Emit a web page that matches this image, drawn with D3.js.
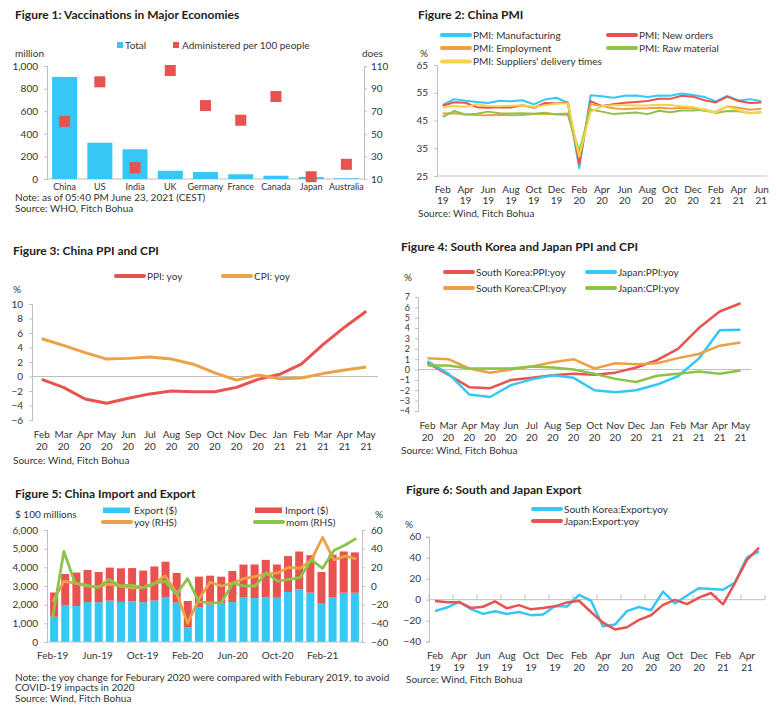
<!DOCTYPE html>
<html>
<head>
<meta charset="utf-8">
<script src="https://cdn.jsdelivr.net/npm/d3@7"></script>
<style>
  body { margin: 0; background: #fff; }
  svg { font-family: Lato, "Open Sans", sans-serif; }
  .title { font-weight: 700; font-size: 12px; fill: #222; }
  .lbl { font-size: 10px; fill: #333; }
  .cat { font-size: 9px; fill: #333; }
  .note { font-size: 10px; fill: #333; }
</style>
</head>
<body>
<svg id="chart" width="777" height="715"></svg>
<script>
// ---- data ----
const vacCountries = ["China", "US", "India", "UK", "Germany", "France", "Canada", "Japan", "Australia"];
const vacTotal = [903, 321, 263, 73, 62, 42, 29, 18, 6];
const vacPer100 = [61, 96, 20, 106, 75, 62, 83, 12, 23];
const vacLeftTicks = [0, 200, 400, 600, 800, 1000];
const vacRightTicks = [10, 30, 50, 70, 90, 110];

const months = ["Feb 19", "Mar 19", "Apr 19", "May 19", "Jun 19", "Jul 19", "Aug 19", "Sep 19", "Oct 19", "Nov 19", "Dec 19",
  "Jan 20", "Feb 20", "Mar 20", "Apr 20", "May 20", "Jun 20", "Jul 20", "Aug 20", "Sep 20", "Oct 20", "Nov 20", "Dec 20",
  "Jan 21", "Feb 21", "Mar 21", "Apr 21", "May 21", "Jun 21"];

const pmiManufacturing = [50.6, 52.7, 52.1, 51.7, 51.3, 52.1, 51.9, 52.3, 50.8, 52.6, 53.2, 51.3, 27.8, 54.1, 53.7, 53.2, 53.9, 54.0, 53.5, 54.0, 53.9, 54.7, 54.2, 53.5, 51.9, 53.9, 52.2, 52.7, 51.9];
const pmiNewOrders = [50.3, 51.6, 51.4, 49.8, 49.6, 49.8, 49.7, 50.5, 49.6, 51.3, 51.2, 51.4, 29.3, 52.0, 50.2, 50.9, 51.4, 51.7, 52.0, 52.8, 52.8, 53.9, 53.6, 52.3, 51.5, 53.6, 52.0, 51.3, 51.5];
const pmiEmployment = [47.5, 47.6, 47.2, 47.0, 46.9, 47.1, 46.9, 47.0, 47.3, 47.3, 47.3, 47.5, 31.8, 50.9, 50.2, 49.4, 49.1, 49.3, 49.4, 49.6, 49.3, 49.5, 49.6, 48.4, 48.1, 50.1, 49.6, 48.9, 49.2];
const pmiRawMaterial = [46.3, 48.4, 47.2, 47.4, 48.2, 47.6, 47.5, 47.6, 47.4, 47.8, 47.2, 47.1, 33.9, 49.0, 48.2, 47.3, 47.6, 47.9, 47.3, 48.5, 48.0, 48.6, 48.6, 49.0, 47.7, 48.4, 48.3, 47.7, 48.0];
const pmiSuppliers = [49.8, 50.2, 49.9, 50.9, 50.2, 50.1, 50.3, 50.5, 49.9, 50.5, 51.1, 51.1, 32.1, 48.2, 50.1, 50.5, 50.5, 50.4, 50.4, 50.7, 50.6, 50.1, 49.9, 48.8, 47.9, 50.0, 48.7, 47.6, 47.9];
const pmiTicks = [25, 35, 45, 55, 65];

const cnPPI = [-0.4, -1.5, -3.1, -3.7, -3.0, -2.4, -2.0, -2.1, -2.1, -1.5, -0.4, 0.3, 1.7, 4.4, 6.8, 9.0];
const cnCPI = [5.2, 4.3, 3.3, 2.4, 2.5, 2.7, 2.4, 1.7, 0.5, -0.5, 0.2, -0.3, -0.2, 0.4, 0.9, 1.3];
const cnTicks = [-6, -4, -2, 0, 2, 4, 6, 8, 10];

const krPPI = [0.65, -0.5, -1.7, -1.8, -1.0, -0.8, -0.55, -0.4, -0.5, -0.3, 0.2, 0.9, 2.0, 4.0, 5.6, 6.4];
const jpPPI = [0.8, -0.4, -2.4, -2.65, -1.5, -0.95, -0.55, -0.8, -2.0, -2.2, -2.0, -1.45, -0.65, 1.05, 3.8, 3.85];
const krCPI = [1.1, 1.0, 0.1, -0.3, 0.0, 0.3, 0.7, 1.0, 0.1, 0.6, 0.5, 0.6, 1.1, 1.5, 2.3, 2.6];
const jpCPI = [0.4, 0.4, 0.1, 0.1, 0.1, 0.3, 0.2, 0.0, -0.4, -0.9, -1.2, -0.6, -0.4, -0.2, -0.4, -0.1];
const krjpTicks = [-4, -3, -2, -1, 0, 1, 2, 3, 4, 5, 6, 7];

const cnExport = [1352, 1986, 1930, 2138, 2129, 2215, 2148, 2181, 2129, 2217, 2381, 2110, 800, 1851, 2003, 2068, 2136, 2376, 2353, 2398, 2372, 2681, 2819, 2640, 2050, 2411, 2639, 2639];
const cnImport = [1300, 1660, 1790, 1720, 1620, 1770, 1800, 1780, 1700, 1830, 1920, 1590, 1400, 1650, 1550, 1430, 1670, 1770, 1800, 2000, 1780, 1920, 2030, 2010, 1700, 2270, 2210, 2160];
const cnYoy = [-17, 5, 3, 0, -1, 2, 0, -2, -2, 2, 11, -7, -40, -14, 4, 0, 3, 8, 10, 13, 14, 20, 19, 28, 52, 28, 32, 29];
const cnMom = [-34, 37, 3, 1, -2, 7, 0, 1, -2, 3, 5, -9, 8, -17, -18, -18, 3, 0, 0, 14, 5, 7, 9, 28, 19, 38, 44, 51];
const tradeLeftTicks = [0, 1000, 2000, 3000, 4000, 5000, 6000];
const tradeRightTicks = [-60, -40, -20, 0, 20, 40, 60];

const krExport = [-10.7, -7.5, -2.0, -9.0, -13.5, -11.0, -13.6, -11.7, -14.7, -14.0, -5.9, -6.5, 4.5, -1.0, -25.4, -23.7, -10.9, -7.0, -10.0, 7.7, -3.6, 4.0, 11.0, 10.3, 9.5, 16.4, 40.3, 46.0];
const jpExport = [-1.2, -2.4, -2.4, -7.8, -6.7, -1.6, -8.2, -5.2, -9.2, -7.9, -6.3, -2.6, -1.0, -11.7, -21.9, -28.3, -26.2, -19.2, -14.8, -4.9, -0.2, -4.2, 2.0, 6.4, -4.5, 16.1, 38.0, 49.6];
const exportTicks = [-40, -20, 0, 20, 40, 60];

// ---- style ----
const BLUE = "#35c8f5", RED = "#e8534f", ORANGE = "#eba146", GREEN = "#8dc34a", YELLOW = "#f2d54a";
const GRID = "#bfbfbf", TXT = "#333";
const svg = d3.select("#chart");

function styleAxis(g, size) {
  g.attr("font-family", null).attr("font-size", null);
  g.select(".domain").attr("stroke", GRID);
  g.selectAll(".tick line").attr("stroke", GRID);
  g.selectAll(".tick text").attr("fill", TXT).attr("font-size", size || 10);
}

function addText(g, x, y, s, cls, anchor) {
  return g.append("text").attr("class", cls || "lbl").attr("x", x).attr("y", y)
    .attr("text-anchor", anchor || "start").text(s);
}

function twoLineLabels(g, x, cats, every, y1, y2) {
  cats.forEach((c, i) => {
    if (i % every) return;
    const [m, yr] = c.split(" ");
    const t = g.append("text").attr("class", "lbl").attr("text-anchor", "middle");
    const cx = x(c) + x.bandwidth() / 2;
    t.append("tspan").attr("x", cx).attr("y", y1).text(m);
    t.append("tspan").attr("x", cx).attr("y", y2).text(yr);
  });
}

function lineSwatch(g, x, y, color, label) {
  g.append("line").attr("x1", x).attr("x2", x + 28).attr("y1", y).attr("y2", y)
    .attr("stroke", color).attr("stroke-width", 4).attr("stroke-linecap", "round");
  addText(g, x + 31, y + 3.5, label);
}

function drawSeries(g, x, y, cats, values, color, width) {
  const line = d3.line().x((d, i) => x(cats[i]) + x.bandwidth() / 2).y(d => y(d));
  g.append("path").datum(values).attr("d", line).attr("fill", "none")
    .attr("stroke", color).attr("stroke-width", width).attr("stroke-linejoin", "round");
}

// ---- Figure 1 ----
(function () {
  const g = svg.append("g");
  addText(g, 15, 19, "Figure 1: Vaccinations in Major Economies", "title");
  const x = d3.scaleBand().domain(vacCountries).range([47, 364]).paddingInner(0.29).paddingOuter(0.145);
  const yL = d3.scaleLinear().domain([0, 1000]).range([179, 66]);
  const yR = d3.scaleLinear().domain([10, 110]).range([179, 66]);

  g.append("g").attr("transform", "translate(47,0)")
    .call(d3.axisLeft(yL).tickValues(vacLeftTicks).tickSize(3).tickPadding(6).tickFormat(d3.format(",")))
    .call(styleAxis);
  g.append("g").attr("transform", "translate(364,0)")
    .call(d3.axisRight(yR).tickValues(vacRightTicks).tickSize(3).tickPadding(4))
    .call(styleAxis);
  g.append("line").attr("x1", 47).attr("x2", 364).attr("y1", 179).attr("y2", 179).attr("stroke", GRID);

  g.selectAll("rect.bar").data(vacTotal).join("rect").attr("class", "bar")
    .attr("x", (d, i) => x(vacCountries[i])).attr("width", x.bandwidth())
    .attr("y", d => yL(d)).attr("height", d => yL(0) - yL(d)).attr("fill", BLUE);
  const s = 11;
  g.selectAll("rect.dot").data(vacPer100).join("rect").attr("class", "dot")
    .attr("x", (d, i) => x(vacCountries[i]) + x.bandwidth() / 2 - s / 2).attr("y", d => yR(d) - s / 2)
    .attr("width", s).attr("height", s).attr("fill", RED);

  vacCountries.forEach(c => addText(g, x(c) + x.bandwidth() / 2, 190, c, "cat", "middle"));

  g.append("rect").attr("x", 117).attr("y", 42).attr("width", 6).attr("height", 6).attr("fill", BLUE);
  addText(g, 125, 48.5, "Total");
  g.append("rect").attr("x", 173).attr("y", 42).attr("width", 6).attr("height", 6).attr("fill", RED);
  addText(g, 182, 48.5, "Administered per 100 people");
  addText(g, 15, 57, "million");
  addText(g, 362, 57, "does");
  addText(g, 15, 200.5, "Note: as of 05:40 PM June 23, 2021 (CEST)", "note");
  addText(g, 15, 212, "Source: WHO, Fitch Bohua", "note");
})();

// ---- Figure 2 ----
(function () {
  const g = svg.append("g");
  addText(g, 418, 19, "Figure 2: China PMI", "title");
  const x = d3.scaleBand().domain(months).range([437, 767]);
  const y = d3.scaleLinear().domain([25, 65]).range([176, 65]);
  g.append("g").attr("transform", "translate(437,0)")
    .call(d3.axisLeft(y).tickValues(pmiTicks).tickSize(3).tickPadding(6)).call(styleAxis);
  g.append("line").attr("x1", 437).attr("x2", 767).attr("y1", 176).attr("y2", 176).attr("stroke", GRID);
  twoLineLabels(g, x, months, 2, 193, 204);

  drawSeries(g, x, y, months, pmiManufacturing, BLUE, 2);
  drawSeries(g, x, y, months, pmiNewOrders, RED, 2);
  drawSeries(g, x, y, months, pmiEmployment, ORANGE, 2);
  drawSeries(g, x, y, months, pmiRawMaterial, GREEN, 2);
  drawSeries(g, x, y, months, pmiSuppliers, YELLOW, 2);

  lineSwatch(g, 442, 35, BLUE, "PMI: Manufacturing");
  lineSwatch(g, 608, 35, RED, "PMI: New orders");
  lineSwatch(g, 442, 48, ORANGE, "PMI: Employment");
  lineSwatch(g, 608, 48, GREEN, "PMI: Raw material");
  lineSwatch(g, 442, 61.5, YELLOW, "PMI: Suppliers' delivery times");
  addText(g, 420, 57, "%");
  addText(g, 418, 217, "Source: Wind, Fitch Bohua", "note");
})();

// ---- Figure 3 ----
(function () {
  const g = svg.append("g");
  const cats = months.slice(12, 28);
  addText(g, 13, 255, "Figure 3: China PPI and CPI", "title");
  const x = d3.scaleBand().domain(cats).range([31, 377]);
  const y = d3.scaleLinear().domain([-6, 10]).range([420, 304]);
  g.append("g").attr("transform", "translate(32,0)")
    .call(d3.axisLeft(y).tickValues(cnTicks).tickSize(3).tickPadding(6)).call(styleAxis);
  g.append("line").attr("x1", 32).attr("x2", 378).attr("y1", y(0)).attr("y2", y(0)).attr("stroke", GRID);
  twoLineLabels(g, x, cats, 1, 438, 450);

  drawSeries(g, x, y, cats, cnPPI, RED, 3);
  drawSeries(g, x, y, cats, cnCPI, ORANGE, 3);

  lineSwatch(g, 116, 276, RED, "PPI: yoy");
  lineSwatch(g, 223, 276, ORANGE, "CPI: yoy");
  addText(g, 13, 293, "%");
  addText(g, 13, 464, "Source: Wind, Fitch Bohua", "note");
})();

// ---- Figure 4 ----
(function () {
  const g = svg.append("g");
  const cats = months.slice(12, 28);
  addText(g, 401, 251, "Figure 4: South Korea and Japan PPI and CPI", "title");
  const x = d3.scaleBand().domain(cats).range([417, 751]);
  const y = d3.scaleLinear().domain([-4, 7]).range([411, 297]);
  g.append("g").attr("transform", "translate(418,0)")
    .call(d3.axisLeft(y).tickValues(krjpTicks).tickSize(3).tickPadding(5)).call(g2 => styleAxis(g2, 9));
  g.append("line").attr("x1", 418).attr("x2", 751).attr("y1", y(0)).attr("y2", y(0)).attr("stroke", GRID);
  twoLineLabels(g, x, cats, 1, 429, 441);

  drawSeries(g, x, y, cats, krPPI, RED, 2.5);
  drawSeries(g, x, y, cats, jpPPI, BLUE, 2.5);
  drawSeries(g, x, y, cats, krCPI, ORANGE, 2.5);
  drawSeries(g, x, y, cats, jpCPI, GREEN, 2.5);

  lineSwatch(g, 445, 272, RED, "South Korea:PPI:yoy");
  lineSwatch(g, 587, 272, BLUE, "Japan:PPI:yoy");
  lineSwatch(g, 445, 288, ORANGE, "South Korea:CPI:yoy");
  lineSwatch(g, 587, 288, GREEN, "Japan:CPI:yoy");
  addText(g, 404, 281, "%");
  addText(g, 401, 454, "Source: Wind, Fitch Bohua", "note");
})();

// ---- Figure 5 ----
(function () {
  const g = svg.append("g");
  const cats = months.slice(0, 28);
  addText(g, 15, 498, "Figure 5: China Import and Export", "title");
  const x = d3.scaleBand().domain(cats).range([47, 362]).padding(0.28);
  const xl = d3.scaleBand().domain(cats).range([47, 362]);
  const yL = d3.scaleLinear().domain([0, 6000]).range([642, 530]);
  const yR = d3.scaleLinear().domain([-60, 60]).range([642, 530]);
  g.append("g").attr("transform", "translate(47,0)")
    .call(d3.axisLeft(yL).tickValues(tradeLeftTicks).tickSize(3).tickPadding(6).tickFormat(d3.format(",")))
    .call(styleAxis);
  g.append("g").attr("transform", "translate(362,0)")
    .call(d3.axisRight(yR).tickValues(tradeRightTicks).tickSize(3).tickPadding(6))
    .call(styleAxis);

  g.selectAll("rect.exp").data(cnExport).join("rect").attr("class", "exp")
    .attr("x", (d, i) => x(cats[i])).attr("width", x.bandwidth())
    .attr("y", d => yL(d)).attr("height", d => yL(0) - yL(d)).attr("fill", BLUE);
  g.selectAll("rect.imp").data(cnImport).join("rect").attr("class", "imp")
    .attr("x", (d, i) => x(cats[i])).attr("width", x.bandwidth())
    .attr("y", (d, i) => yL(cnExport[i] + d)).attr("height", d => yL(0) - yL(d)).attr("fill", RED);
  g.append("line").attr("x1", 47).attr("x2", 362).attr("y1", 642).attr("y2", 642).attr("stroke", GRID);

  drawSeries(g, xl, yR, cats, cnYoy, ORANGE, 2.8);
  drawSeries(g, xl, yR, cats, cnMom, GREEN, 2.8);

  cats.forEach((c, i) => {
    if (i % 4) return;
    addText(g, xl(c) + xl.bandwidth() / 2, 659, c.replace(" ", "-"), "lbl", "middle");
  });

  g.append("rect").attr("x", 103).attr("y", 507.5).attr("width", 27).attr("height", 5.5).attr("fill", BLUE);
  addText(g, 134, 513.5, "Export ($)");
  g.append("rect").attr("x", 255).attr("y", 507.5).attr("width", 27).attr("height", 5.5).attr("fill", RED);
  addText(g, 285, 513.5, "Import ($)");
  lineSwatch(g, 103, 522, ORANGE, "yoy (RHS)");
  lineSwatch(g, 255, 522, GREEN, "mom (RHS)");
  addText(g, 15, 517.5, "$ 100 millions");
  addText(g, 375, 517.5, "%");
  addText(g, 15, 680.5, "Note: the yoy change for Feburary 2020 were compared with Feburary 2019, to avoid", "note");
  addText(g, 15, 691, "COVID-19 impacts in 2020", "note");
  addText(g, 15, 702, "Source: Wind, Fitch Bohua", "note");
})();

// ---- Figure 6 ----
(function () {
  const g = svg.append("g");
  const cats = months.slice(0, 28);
  addText(g, 406, 494, "Figure 6: South and Japan Export", "title");
  const x = d3.scaleBand().domain(cats).range([429, 765]);
  const y = d3.scaleLinear().domain([-40, 60]).range([641.7, 536.7]);
  g.append("g").attr("transform", "translate(429,0)")
    .call(d3.axisLeft(y).tickValues(exportTicks).tickSize(3).tickPadding(5)).call(styleAxis);
  const y0 = y(0);
  g.append("line").attr("x1", 429).attr("x2", 765).attr("y1", y0).attr("y2", y0).attr("stroke", GRID);
  cats.forEach((c, i) => {
    if (i % 2) return;
    g.append("line").attr("x1", x(c)).attr("x2", x(c)).attr("y1", y0 - 5).attr("y2", y0).attr("stroke", GRID);
  });
  g.append("line").attr("x1", 765).attr("x2", 765).attr("y1", y0 - 5).attr("y2", y0).attr("stroke", GRID);
  twoLineLabels(g, x, cats, 2, 659, 671);

  drawSeries(g, x, y, cats, krExport, BLUE, 2.5);
  drawSeries(g, x, y, cats, jpExport, RED, 2.5);

  lineSwatch(g, 533, 509, BLUE, "South  Korea:Export:yoy");
  lineSwatch(g, 533, 521, RED, "Japan:Export:yoy");
  addText(g, 405, 528, "%");
  addText(g, 406, 683, "Source: Wind, Fitch Bohua", "note");
})();
</script>
</body>
</html>
